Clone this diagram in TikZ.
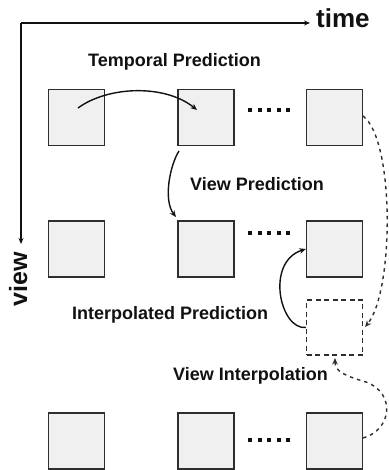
\documentclass[tikz,border=0pt]{standalone}
\usepackage{fontspec}
\setmainfont{Liberation Sans}
\usetikzlibrary{arrows.meta}
\definecolor{boxfill}{HTML}{F0F0F0}
\definecolor{boxline}{HTML}{2E2E2E}
\definecolor{ink}{HTML}{111111}
\begin{document}
\begin{tikzpicture}[x=1pt,y=-1pt,
  frame/.style={draw=boxline,fill=boxfill,line width=1.3pt,minimum width=56pt,minimum height=56pt,inner sep=0pt},
  dframe/.style={draw=boxline,line width=1.4pt,dash pattern=on 5pt off 3.5pt,minimum width=56pt,minimum height=55pt,inner sep=0pt},
  lbl/.style={font=\bfseries\fontsize{18}{20}\selectfont,text=ink,inner sep=0pt,anchor=base west},
  axis/.style={draw=ink,line width=1.4pt,-{Stealth[length=6pt,width=5pt]}},
  conn/.style={draw=ink,line width=1.4pt,-{Stealth[length=6.5pt,width=5.5pt]}},
  dconn/.style={draw=boxline,line width=1.4pt,dash pattern=on 3.5pt off 4pt,-{Stealth[length=6.5pt,width=5.5pt]}}
]
\useasboundingbox (0,0) rectangle (388,470);

% axes
\coordinate (o) at (21,23);
\coordinate (tend) at (310,23);
\coordinate (vend) at (21,244);
\draw[axis] (o) -- (tend);
\draw[axis] (o) -- (vend);
\node[font=\bfseries\fontsize{26}{28}\selectfont,text=ink,inner sep=0pt,anchor=base west] (time) at (316,28) {time};
\node[font=\bfseries\fontsize{25}{27}\selectfont,text=ink,inner sep=0pt,anchor=base,rotate=90] (view) at (27,279) {view};

% frames
\node[frame] (a1) at (76.5,117.5) {};
\node[frame] (a2) at (206,117.5) {};
\node[frame] (a3) at (334.5,117.5) {};
\node[frame] (b1) at (76.5,249) {};
\node[frame] (b2) at (206,249) {};
\node[frame] (b3) at (334.5,249) {};
\node[frame] (c1) at (76.5,441) {};
\node[frame] (c2) at (206,441) {};
\node[frame] (c3) at (334.5,441) {};
\node[dframe] (d) at (334.5,327.5) {};

% dots
\foreach \r/\yy in {1/110,2/233,3/440}{
  \foreach \k in {0,...,4}{
    \fill[ink] ({250+9.5*\k-2},{\yy-2}) rectangle ++(4.2,4.2);
  }
}

% labels
\node[lbl] (tp) at (88,67) {Temporal Prediction};
\node[lbl] (vp) at (190,190) {View Prediction};
\node[lbl] (ip) at (72,319) {Interpolated Prediction};
\node[lbl] (vi) at (173,380) {View Interpolation};

% connectors
\coordinate (t0) at (78,108);
\coordinate (t1) at (197,110);
\draw[conn] (t0) .. controls (108,86) and (165,84) .. (t1);

\coordinate (v0) at (179,151);
\coordinate (v1) at (176,217);
\draw[conn] (v0) .. controls (170,165) and (163,200) .. (v1);

\draw[conn] (d.west) .. controls (280,330) and (265,262) .. (b3.west);

\coordinate (e0) at (363,116);
\coordinate (e1) at (365,327);
\draw[dconn] (e0) .. controls (395,140) and (394,292) .. (e1);

\coordinate (f0) at (363,438);
\coordinate (fm) at (366,382);
\coordinate (f1) at (335,358);
\draw[dconn] (f0) .. controls (392,430) and (396,393) .. (fm) .. controls (346,376) and (335,372) .. (f1);
\end{tikzpicture}
\end{document}
